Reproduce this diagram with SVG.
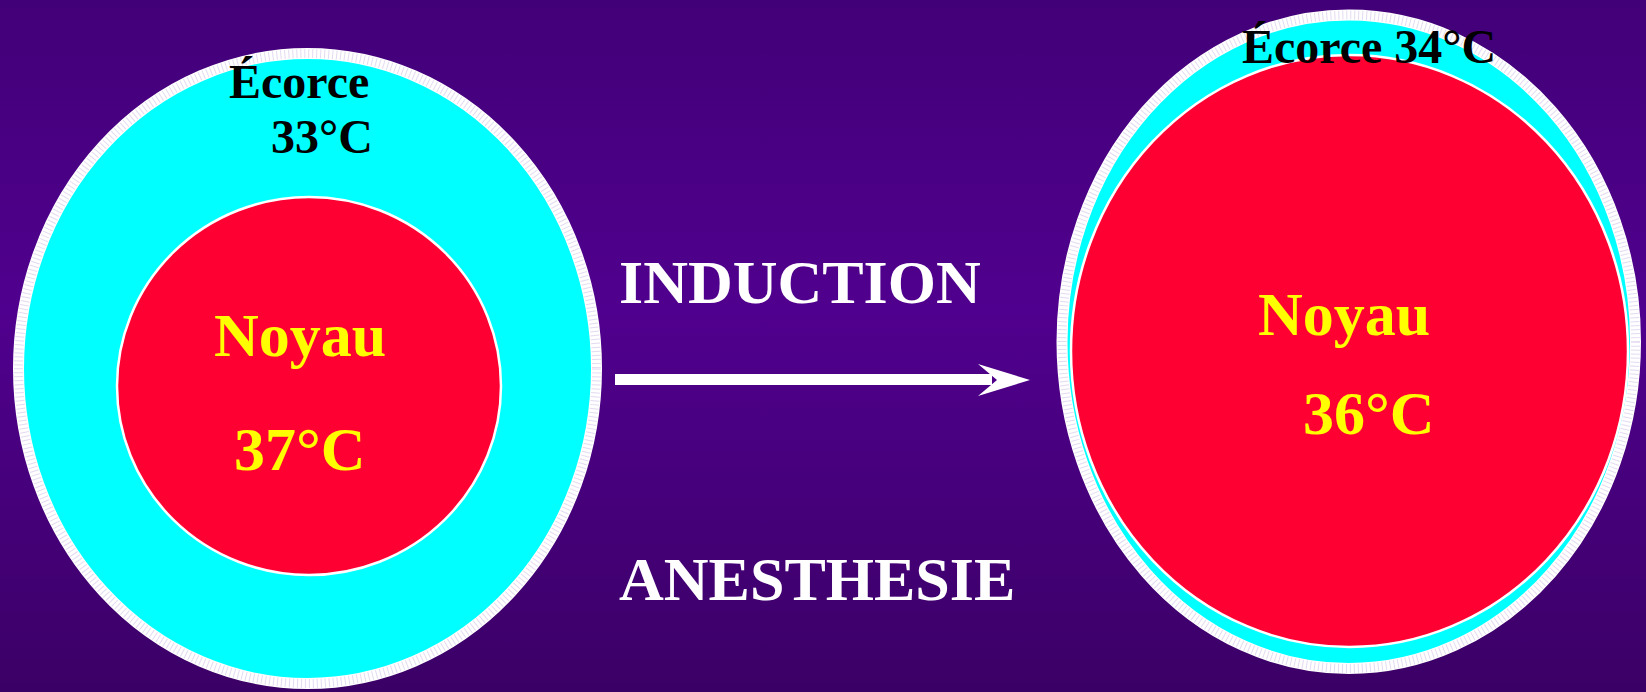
<svg xmlns="http://www.w3.org/2000/svg" width="1646" height="692" viewBox="0 0 1646 692">
  <defs>
    <linearGradient id="bg" x1="0" y1="0" x2="0" y2="1">
      <stop offset="0" stop-color="#420078"/>
      <stop offset="0.45" stop-color="#50008e"/>
      <stop offset="1" stop-color="#3b0066"/>
    </linearGradient>
  </defs>
  <style>
    text { font-family: "Liberation Serif", "Times New Roman", serif; font-weight: bold; }
    .shell { fill: #00ffff; stroke: #ffffff; stroke-width: 11; }
    .shellhatch { fill: none; stroke: #c9b6e6; stroke-width: 9; stroke-dasharray: 1 3; opacity: 0.5; }
    .core { fill: #ff0033; stroke: #ffffff; stroke-width: 2.5; }
    .lbl { fill: #000000; font-size: 48px; }
    .core-lbl { fill: #ffff00; font-size: 62px; }
    .mid { fill: #ffffff; font-size: 62px; }
  </style>
  <rect x="0" y="0" width="1646" height="692" fill="url(#bg)"/>

  <g id="before">
    <ellipse class="shell" cx="307.5" cy="368.5" rx="289" ry="315"/>
    <ellipse class="shellhatch" cx="307.5" cy="368.5" rx="289" ry="315"/>
    <ellipse class="core" cx="309" cy="386" rx="192" ry="189"/>
    <text class="lbl" x="229" y="98">Écorce</text>
    <text class="lbl" x="271" y="153">33°C</text>
    <text class="core-lbl" x="214" y="356">Noyau</text>
    <text class="core-lbl" x="234" y="470">37°C</text>
  </g>

  <g id="after">
    <ellipse class="shell" cx="1348.75" cy="341.75" rx="286.75" ry="326.75"/>
    <ellipse class="shellhatch" cx="1348.75" cy="341.75" rx="286.75" ry="326.75"/>
    <ellipse class="core" cx="1349.5" cy="351" rx="278.5" ry="296"/>
    <text class="lbl" x="1242" y="63">Écorce 34°C</text>
    <text class="core-lbl" x="1258" y="335">Noyau</text>
    <text class="core-lbl" x="1303" y="434">36°C</text>
  </g>

  <g id="connectors">
    <line x1="615" y1="379.5" x2="992" y2="379.5" stroke="#ffffff" stroke-width="11"/>
    <polygon points="1030,380 978,364 997,380 978,396" fill="#ffffff"/>
    <text class="mid" x="619" y="303">INDUCTION</text>
    <text class="mid" x="619" y="600">ANESTHESIE</text>
  </g>
</svg>
